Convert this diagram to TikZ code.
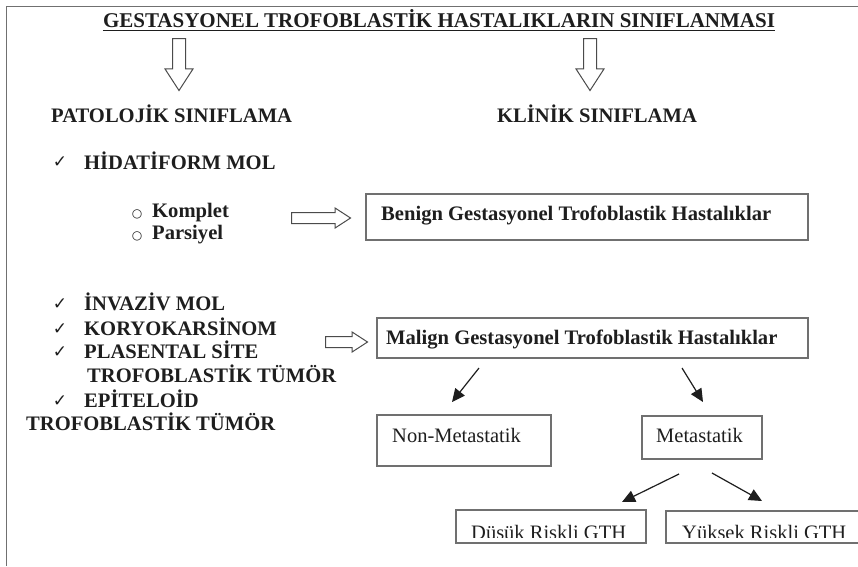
\documentclass[tikz,border=0pt]{standalone}
\usepackage{fontspec}
\setmainfont{Liberation Serif}
\newfontfamily\symfont{DejaVu Sans}
\usetikzlibrary{shapes.arrows,arrows.meta}
\definecolor{ink}{HTML}{1E1E1E}
\definecolor{frame}{HTML}{707070}
\tikzset{
  bold20/.style={font=\fontsize{20.6}{24}\selectfont\bfseries, text=ink, inner sep=0pt},
  reg20/.style={font=\fontsize{20.5}{24}\selectfont, text=ink, inner sep=0pt},
  boxframe/.style={draw=frame, line width=1.3pt},
  hollow/.style={single arrow, draw=ink!80, line width=1pt, inner xsep=0pt, inner ysep=5pt,
     single arrow head extend=4.5pt, single arrow tip angle=66, minimum width=10pt},
  fillarr/.style={draw=ink, line width=1.2pt, -{Triangle[length=13pt,width=12pt]}},
  chk/.style={font=\symfont\fontsize{17}{18}\selectfont, text=ink, inner sep=0pt},
  bul/.style={font=\symfont\fontsize{12}{13}\selectfont, text=ink, inner sep=0pt},
}
\begin{document}
\begin{tikzpicture}[x=1pt,y=-1pt]
\useasboundingbox (0,0) rectangle (858,566);
\fill[white] (0,0) rectangle (858,566);
% frame lines
\draw[frame, line width=1.5pt] (6.5,566) -- (6.5,6.5) -- (858,6.5);
% title
\node[bold20, font=\fontsize{21}{24}\selectfont\bfseries, anchor=base] (title) at (439,27) {GESTASYONEL TROFOBLASTİK HASTALIKLARIN SINIFLANMASI};
\draw[ink, line width=1.3pt] ([yshift=-3.5pt]title.base west) -- ([yshift=-3.5pt]title.base east);
% down hollow arrows
\node[hollow, rotate=-90, minimum height=52pt, inner ysep=6pt, single arrow head extend=7.5pt, anchor=tail] (dl) at (179,38) {};
\node[hollow, rotate=-90, minimum height=52pt, inner ysep=6pt, single arrow head extend=7.5pt, anchor=tail] (dr) at (590,38) {};
% headings
\node[bold20, anchor=base west] (pat) at (51,122) {PATOLOJİK SINIFLAMA};
\node[bold20, anchor=base west] (kli) at (497,122) {KLİNİK SINIFLAMA};
% left list
\node[chk, anchor=base] (c1) at (60,167) {✓};
\node[bold20, anchor=base west] (hid) at (84,169) {HİDATİFORM MOL};
\node[bul, anchor=base] (b1) at (137,217) {○};
\node[bold20, anchor=base west] (kom) at (152,217) {Komplet};
\node[bul, anchor=base] (b2) at (137,239) {○};
\node[bold20, anchor=base west] (par) at (152,239) {Parsiyel};

\node[chk, anchor=base] (c2) at (60,309) {✓};
\node[bold20, anchor=base west] (inv) at (84,310) {İNVAZİV MOL};
\node[chk, anchor=base] (c3) at (60,334) {✓};
\node[bold20, anchor=base west] (kor) at (84,335) {KORYOKARSİNOM};
\node[chk, anchor=base] (c4) at (60,357) {✓};
\node[bold20, anchor=base west] (pla) at (84,358) {PLASENTAL SİTE};
\node[bold20, anchor=base west] (tro1) at (87,382) {TROFOBLASTİK TÜMÖR};
\node[chk, anchor=base] (c5) at (60,406) {✓};
\node[bold20, anchor=base west] (epi) at (84,407) {EPİTELOİD};
\node[bold20, anchor=base west] (tro2) at (26,430) {TROFOBLASTİK TÜMÖR};
% right hollow arrows
\node[hollow, minimum height=59pt, anchor=tail] (ar1) at (291,218) {};
\node[hollow, minimum height=42pt, anchor=tail] (ar2) at (325,342) {};
% benign box
\draw[boxframe] (366,194) rectangle (808,240);
\node[bold20, anchor=base west] (ben) at (381,220) {Benign Gestasyonel Trofoblastik Hastalıklar};
% malign box
\draw[boxframe] (377,318) rectangle (808,358);
\node[bold20, anchor=base west] (mal) at (386,344) {Malign Gestasyonel Trofoblastik Hastalıklar};
% arrows
\coordinate (m1s) at (479,368); \coordinate (m1e) at (452,402);
\coordinate (m2s) at (682,368); \coordinate (m2e) at (703,402);
\draw[fillarr] (m1s) -- (m1e);
\draw[fillarr] (m2s) -- (m2e);
% non-metastatik
\draw[boxframe] (377,415) rectangle (551,466);
\node[reg20, anchor=base west] (non) at (392,442) {Non-Metastatik};
\draw[boxframe] (642,416) rectangle (762,459);
\node[reg20, anchor=base west] (met) at (656,442) {Metastatik};
\coordinate (t1s) at (679,474); \coordinate (t1e) at (622,502);
\coordinate (t2s) at (712,473); \coordinate (t2e) at (762,501);
\draw[fillarr] (t1s) -- (t1e);
\draw[fillarr] (t2s) -- (t2e);
% bottom boxes with clipped text
\begin{scope}
\clip (450,500) rectangle (860,537);
\node[reg20, anchor=base west] (dus) at (471,539) {Düşük Riskli GTH};
\node[reg20, anchor=base west] (yuk) at (682,539) {Yüksek Riskli GTH};
\end{scope}
\draw[boxframe] (456,510) rectangle (646,543);
\draw[boxframe] (880,511) -- (666,511) -- (666,543) -- (880,543);
\end{tikzpicture}
\end{document}
